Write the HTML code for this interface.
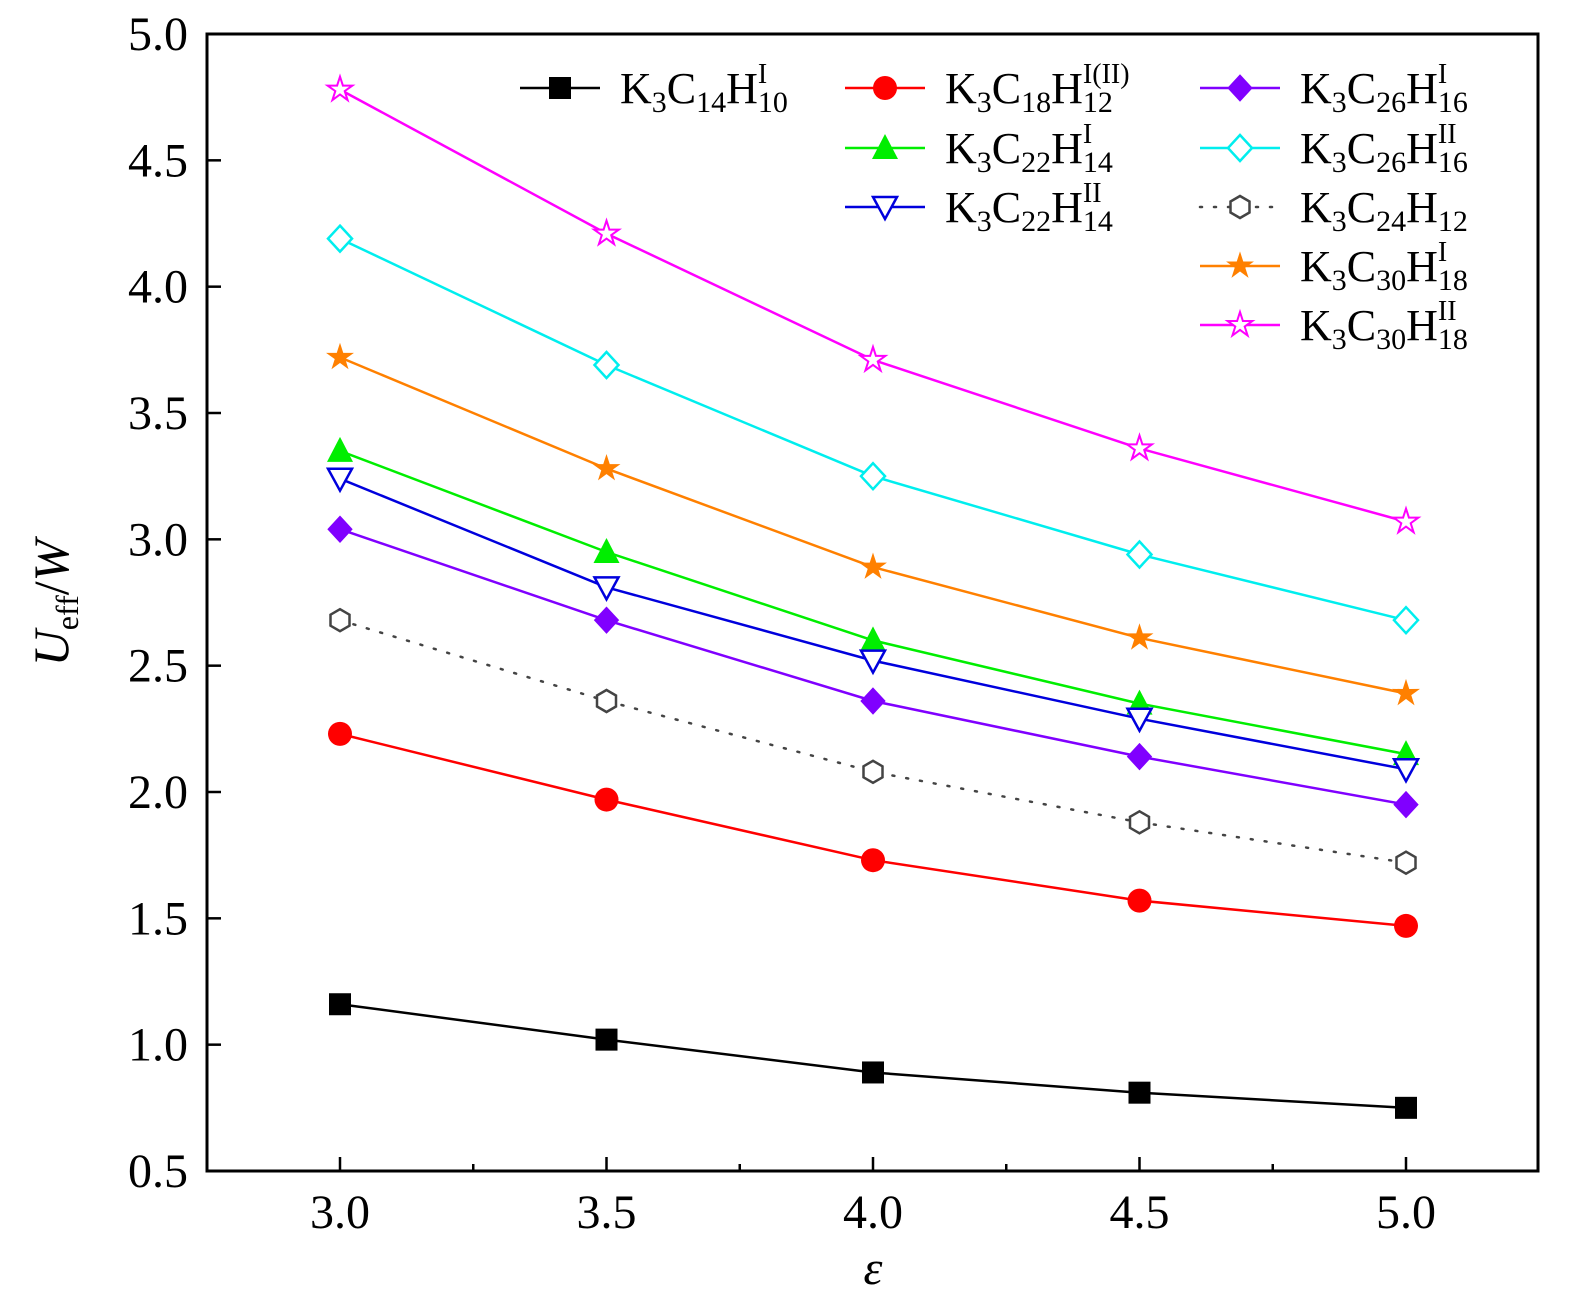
<!DOCTYPE html>
<html><head><meta charset="utf-8"><style>
body{margin:0;background:#fff;}
svg text{font-family:"Liberation Serif","DejaVu Serif",serif;fill:#000;}
</style></head><body>
<svg id="c" width="1575" height="1309" xmlns="http://www.w3.org/2000/svg"></svg>
<script>
const xCats=[3.0,3.5,4.0,4.5,5.0];
const xTickLabels=["3.0","3.5","4.0","4.5","5.0"];
const yTicks=[0.5,1.0,1.5,2.0,2.5,3.0,3.5,4.0,4.5,5.0];
const yTickLabels=["0.5","1.0","1.5","2.0","2.5","3.0","3.5","4.0","4.5","5.0"];
const sBlack=[1.16,1.02,0.89,0.81,0.75];
const sRed=[2.23,1.97,1.73,1.57,1.47];
const sGreen=[3.35,2.95,2.60,2.35,2.15];
const sBlue=[3.24,2.81,2.52,2.29,2.09];
const sPurple=[3.04,2.68,2.36,2.14,1.95];
const sCyan=[4.19,3.69,3.25,2.94,2.68];
const sHex=[2.68,2.36,2.08,1.88,1.72];
const sOrange=[3.72,3.28,2.89,2.61,2.39];
const sMagenta=[4.78,4.21,3.71,3.36,3.07];

const NS="http://www.w3.org/2000/svg";
const svg=document.getElementById('c');
const L=207,R=1538,T=34,B=1171;
const X=v=>340+(v-3.0)*533;
const Y=v=>B-(v-0.5)*(B-T)/4.5;
function el(t,a,p){const e=document.createElementNS(NS,t);for(const k in a)e.setAttribute(k,a[k]);(p||svg).appendChild(e);return e;}

function marker(type,x,y,col,g){
  const s=11;let e;
  if(type==='sq'){e=el('rect',{x:x-s,y:y-s,width:2*s,height:2*s,fill:col},g);}
  else if(type==='ci'){e=el('circle',{cx:x,cy:y,r:s+1,fill:col},g);}
  else if(type==='tu'){e=el('polygon',{points:`${x},${y-s-3} ${x-s-2},${y+s} ${x+s+2},${y+s}`,fill:col},g);}
  else if(type==='td'){e=el('polygon',{points:`${x},${y+s+1} ${x-s-1},${y-s+1} ${x+s+1},${y-s+1}`,fill:'#fff',stroke:col,'stroke-width':2.5},g);}
  else if(type==='di'||type==='dio'){e=el('polygon',{points:`${x},${y-s-2} ${x+s+1},${y} ${x},${y+s+2} ${x-s-1},${y}`,fill:type==='di'?col:'#fff',stroke:col,'stroke-width':type==='di'?1:2.5},g);}
  else if(type==='hx'){let p=[];for(let i=0;i<6;i++){const a=Math.PI/6+i*Math.PI/3;p.push((x+s*Math.cos(a)).toFixed(1)+','+(y+s*Math.sin(a)).toFixed(1));}e=el('polygon',{points:p.join(' '),fill:'#fff',stroke:col,'stroke-width':2.5},g);}
  else {let p=[];for(let i=0;i<10;i++){const r=i%2?s*0.45:s+2;const a=-Math.PI/2+i*Math.PI/5;p.push((x+r*Math.cos(a)).toFixed(1)+','+(y+r*Math.sin(a)).toFixed(1));}
    e=el('polygon',{points:p.join(' '),fill:type==='st'?col:'#fff',stroke:col,'stroke-width':type==='st'?1:2},g);}
  
  
}

const series=[
 {d:sBlack,c:'#000',m:'sq',n:'black'},
 {d:sRed,c:'#ff0000',m:'ci',n:'red'},
 {d:sGreen,c:'#00ee00',m:'tu',n:'green'},
 {d:sBlue,c:'#0000dd',m:'td',n:'blue'},
 {d:sPurple,c:'#8000ff',m:'di',n:'purple'},
 {d:sCyan,c:'#00eeee',m:'dio',n:'cyan'},
 {d:sHex,c:'#444',m:'hx',n:'hexagon',dash:true},
 {d:sOrange,c:'#ff8000',m:'st',n:'orange'},
 {d:sMagenta,c:'#ff00ff',m:'sto',n:'magenta'}
];
series.forEach(s=>{
  const g=el('g',{});
  
  
  const pts=s.d.map((v,i)=>X(xCats[i]).toFixed(1)+','+Y(v).toFixed(1)).join(' ');
  const a={points:pts,fill:'none',stroke:s.c,'stroke-width':2.5};
  if(s.dash){a['stroke-dasharray']='2,12';a['stroke-linecap']='round';}
  const pl=el('polyline',a,g);
  
  
  s.d.forEach((v,i)=>marker(s.m,X(xCats[i]),Y(v),s.c,g));
});

const ax=el('rect',{x:L,y:T,width:R-L,height:B-T,fill:'none',stroke:'#000','stroke-width':3});


xCats.forEach((v,i)=>{
  el('line',{x1:X(v),x2:X(v),y1:B,y2:B-14,stroke:'#000','stroke-width':2.5});
  if(i<xCats.length-1){const m=X(v+0.25);el('line',{x1:m,x2:m,y1:B,y2:B-7,stroke:'#000','stroke-width':2.5});}
  const t=el('text',{x:X(v),y:1228,'text-anchor':'middle','font-size':48});
  t.textContent=xTickLabels[i];
  
  
});
yTicks.forEach((v,i)=>{
  el('line',{x1:L,x2:L+14,y1:Y(v),y2:Y(v),stroke:'#000','stroke-width':2.5});
  const t=el('text',{x:188,y:Y(v)+16,'text-anchor':'end','font-size':48});
  t.textContent=yTickLabels[i];
  
  
});
const xt=el('text',{x:873,y:1284,'text-anchor':'middle','font-size':48,'font-style':'italic'});
xt.textContent='ε';


const yt=el('text',{transform:'translate(68,603) rotate(-90)','text-anchor':'middle','font-size':50});
yt.innerHTML='<tspan font-style="italic">U</tspan><tspan font-size="32" dy="10">eff</tspan><tspan dy="-10">/</tspan><tspan font-style="italic">W</tspan>';



const legend=[
 [0,520,88,'14','10','I'],[1,845,88,'18','12','I(II)'],[2,845,148,'22','14','I'],[3,845,207,'22','14','II'],
 [4,1200,88,'26','16','I'],[5,1200,148,'26','16','II'],[6,1200,207,'24','12',''],[7,1200,266,'30','18','I'],[8,1200,325,'30','18','II']
];
legend.forEach(e=>{
  const s=series[e[0]];
  const g=el('g',{});
  
  
  const a={x1:e[1],x2:e[1]+80,y1:e[2],y2:e[2],stroke:s.c,'stroke-width':2.5};
  if(s.dash){a['stroke-dasharray']='2,12';a['stroke-linecap']='round';}
  el('line',a,g);
  marker(s.m,e[1]+40,e[2],s.c,g);
  const t=el('text',{x:e[1]+100,y:e[2]+15,'font-size':44},g);
  t.innerHTML=`K<tspan font-size="30" dy="9">3</tspan><tspan dy="-9">C</tspan><tspan font-size="30" dy="9">${e[3]}</tspan><tspan dy="-9">H</tspan><tspan font-size="30" dy="9">${e[4]}</tspan>`+(e[5]?`<tspan font-size="28" dx="-${e[4].length*15}" dy="-29">${e[5]}</tspan>`:'');
});
</script>
</body></html>
